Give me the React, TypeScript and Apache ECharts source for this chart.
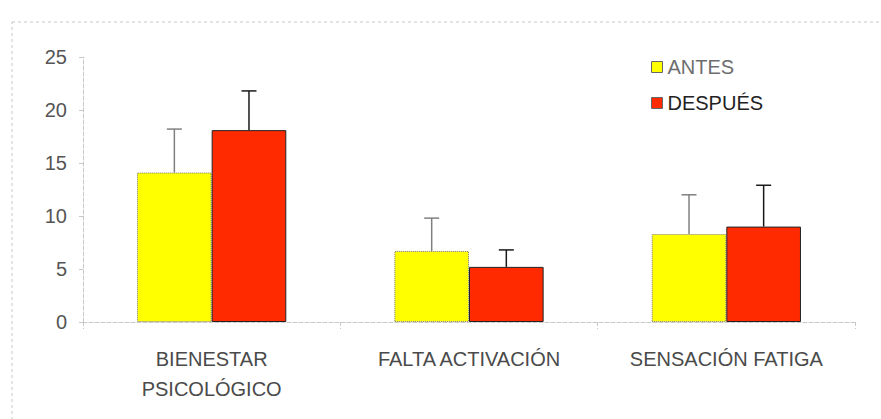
import React, { useEffect, useRef } from "react";
import * as echarts from "echarts";

const categories = ["BIENESTAR\nPSICOLÓGICO", "FALTA ACTIVACIÓN", "SENSACIÓN FATIGA"];
const antes = [14.1, 6.7, 8.3];
const antesSD = [4.1, 3.1, 3.7];
const despues = [18.1, 5.2, 9.0];
const despuesSD = [3.7, 1.6, 3.9];
const yTicks = [0, 5, 10, 15, 20, 25];

const GAP = 0.42;
const FONT = "Liberation Sans, Arial, sans-serif";

function errorSeries(name: string, means: number[], sds: number[], side: number, color: string) {
  return {
    type: "custom",
    name: name + "_err",
    silent: true,
    z: 5,
    data: means.map((m, i) => [i, m, m + sds[i]]),
    renderItem: (params: any, api: any) => {
      const idx = api.value(0);
      const base = api.coord([idx, api.value(1)]);
      const top = api.coord([idx, api.value(2)]);
      const band = api.size([1, 0])[0];
      const bw = (band * (1 - GAP)) / 2;
      const x = base[0] + side * bw / 2;
      const cap = 7.5;
      return {
        type: "group",
        children: [
          { type: "line", shape: { x1: x, y1: base[1], x2: x, y2: top[1] }, style: { stroke: color, lineWidth: 1.5 } },
          { type: "line", shape: { x1: x - cap, y1: top[1], x2: x + cap, y2: top[1] }, style: { stroke: color, lineWidth: 1.5 } },
        ],
      };
    },
  };
}

export default function App() {
  const ref = useRef<HTMLDivElement>(null);
  useEffect(() => {
    if (!ref.current) return;
    const chart = echarts.init(ref.current, null, { renderer: "svg" });
    chart.setOption({
      animation: false,
      backgroundColor: "#ffffff",
      textStyle: { fontFamily: FONT },
      graphic: [
        {
          type: "rect",
          shape: { x: 12, y: 22, width: 880, height: 420 },
          style: { fill: "none", stroke: "#c8c8c8", lineWidth: 1, lineDash: [3, 3] },
          silent: true,
          z: -1,
        },
      ],
      legend: {
        orient: "vertical",
        left: 646,
        top: 52,
        itemWidth: 11,
        itemHeight: 11,
        itemGap: 16,
        icon: "rect",
        data: [
          { name: "ANTES", textStyle: { color: "#6e6e6e" } },
          { name: "DESPUÉS", textStyle: { color: "#222" } },
        ],
        textStyle: { fontSize: 20, fontFamily: FONT, padding: [0, 0, 0, 0] },
        itemStyle: { borderColor: "#666", borderWidth: 1 },
      },
      grid: { left: 83, top: 57, right: 26, bottom: 97, containLabel: false },
      xAxis: {
        type: "category",
        data: categories,
        axisLine: { show: true, lineStyle: { color: "#c8c8c8", type: "dashed", width: 1 } },
        axisTick: { show: true, alignWithLabel: false, length: 7, lineStyle: { color: "#c8c8c8", type: "dashed" } },
        axisLabel: { color: "#4a4a4a", fontSize: 20, lineHeight: 30, margin: 22, fontFamily: FONT, interval: 0 },
        splitLine: { show: false },
      },
      yAxis: {
        type: "value",
        min: 0,
        max: 25,
        interval: 5,
        axisLine: { show: true, lineStyle: { color: "#c8c8c8", type: "dashed", width: 1 } },
        axisTick: { show: true, length: 4, lineStyle: { color: "#c8c8c8" } },
        axisLabel: {
          color: "#555",
          fontSize: 20,
          margin: 16,
          fontFamily: FONT,
          formatter: (v: number) => (yTicks.includes(v) ? String(v) : ""),
        },
        splitLine: { show: false },
      },
      series: [
        {
          name: "ANTES",
          type: "bar",
          data: antes,
          barGap: "0%",
          barCategoryGap: GAP * 100 + "%",
          itemStyle: { color: "#ffff00", borderColor: "#777", borderWidth: 1, borderType: "dotted" },
        },
        {
          name: "DESPUÉS",
          type: "bar",
          data: despues,
          barGap: "0%",
          barCategoryGap: GAP * 100 + "%",
          itemStyle: { color: "#ff2a00", borderColor: "#222", borderWidth: 1 },
        },
        errorSeries("ANTES", antes, antesSD, -1, "#808080"),
        errorSeries("DESPUÉS", despues, despuesSD, 1, "#1a1a1a"),
      ],
    });
    return () => chart.dispose();
  }, []);
  return <div ref={ref} style={{ position: "absolute", left: 0, top: 0, width: 881, height: 419 }} />;
}
